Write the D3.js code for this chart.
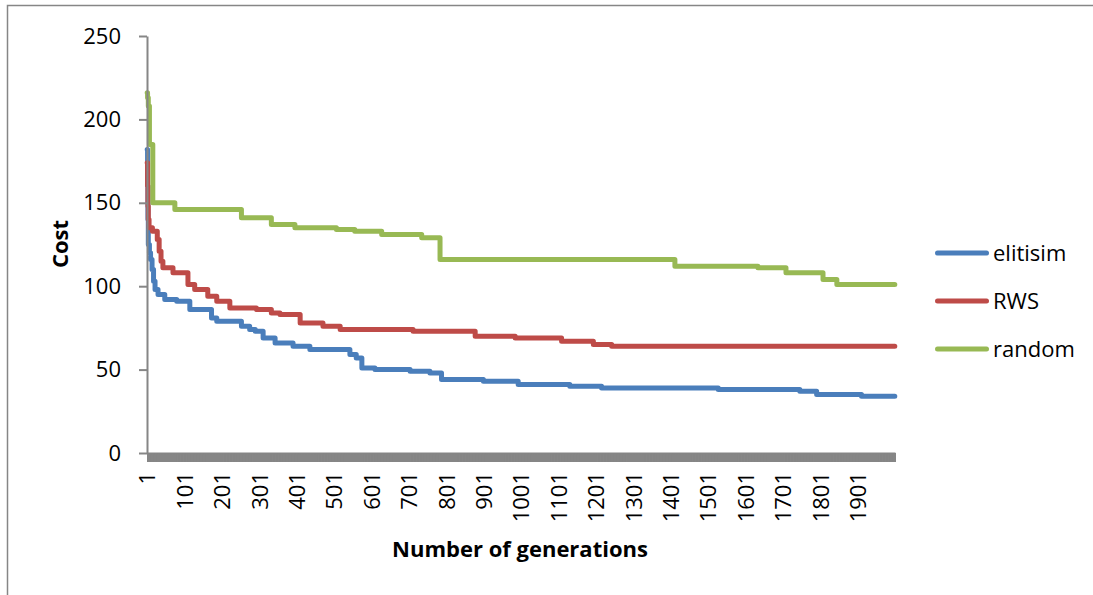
<!DOCTYPE html>
<html><head><meta charset="utf-8">
<script src="https://cdn.jsdelivr.net/npm/d3@7"></script>
<style>body{margin:0;background:#fff} svg{display:block}</style>
</head><body><svg id="c" width="1093" height="595"></svg>
<script>
// ---- data ----
const elitismGen  = [1,2,3,4,7,10,14,18,22,30,48,80,115,173,187,253,275,290,311,343,391,436,543,560,575,610,704,757,788,900,993,1131,1216,1528,1746,1791,1911,2000];
const elitismCost = [182,160,140,125,120,116,110,103,98,95,92,91,86,81,79,76,74,73,69,66,64,62,59,57,51,50,49,48,44,43,41,40,39,38,37,35,34,34];
const rwsGen  = [1,2,3,4,6,15,28,33,38,43,70,110,128,163,187,222,293,333,356,410,471,517,712,878,985,1109,1194,1243,2000];
const rwsCost = [174,160,148,140,135,133,128,121,115,111,108,101,98,94,91,87,86,84,83,78,76,74,73,70,69,67,65,64,64];
const randomGen  = [1,2,4,7,16,75,253,333,396,507,556,628,735,784,1412,1634,1709,1808,1845,2000];
const randomCost = [216,213,208,185,150,146,141,137,135,134,133,131,129,116,112,111,108,104,101,101];
const seriesNames = ["elitisim","RWS","random"];
const seriesColors = ["#4A7EBB","#BE4B48","#98B954"];
const yTicks = [0,50,100,150,200,250];
const xTickLabels = d3.range(1, 2001, 100);
const generationCount = 2000;

const series = [
  {name: seriesNames[0], color: seriesColors[0], pts: d3.zip(elitismGen, elitismCost)},
  {name: seriesNames[1], color: seriesColors[1], pts: d3.zip(rwsGen, rwsCost)},
  {name: seriesNames[2], color: seriesColors[2], pts: d3.zip(randomGen, randomCost)}
];

const svg = d3.select("#c");
const FONT = "'Open Sans', 'Liberation Sans', sans-serif";
const GRAY = "#868686";

// outer chart border (cropped at right/bottom)
svg.append("rect").attr("x",7.5).attr("y",5.5).attr("width",1200).attr("height",800)
  .attr("fill","none").attr("stroke",GRAY).attr("stroke-width",1.5);

const x = d3.scaleLinear().domain([0.5, generationCount + 0.5]).range([147, 895]);
const y = d3.scaleLinear().domain([0, 250]).range([453, 36]);

// lines
const line = d3.line().x(d => x(d[0])).y(d => y(d[1])).curve(d3.curveStepAfter);
svg.append("g").selectAll("path").data(series).join("path")
  .attr("d", d => line(d.pts))
  .attr("fill","none").attr("stroke", d => d.color)
  .attr("stroke-width",5).attr("stroke-linejoin","round").attr("stroke-linecap","round");

// x axis: dense category tick marks
const xAx = svg.append("g").attr("transform","translate(0,453)")
  .call(d3.axisBottom(x).tickValues(d3.range(0.5, generationCount + 1, 1)).tickSize(9).tickSizeOuter(0).tickFormat(""));
xAx.select(".domain").attr("stroke",GRAY).attr("stroke-width",2);
xAx.selectAll(".tick line").attr("stroke",GRAY).attr("stroke-width",1);

// x labels
const xLab = svg.append("g").attr("transform","translate(0,453)")
  .call(d3.axisBottom(x).tickValues(xTickLabels).tickSize(0).tickFormat(d3.format("d")));
xLab.select(".domain").remove();
xLab.selectAll("text")
  .attr("transform","rotate(-90)").attr("x",-19).attr("y",0).attr("dy","0.35em")
  .attr("text-anchor","end").attr("font-family",FONT).attr("font-size",22).attr("fill","#000");

// y axis
const yAx = svg.append("g").attr("transform","translate(147,0)")
  .call(d3.axisLeft(y).tickValues(yTicks).tickSize(8).tickSizeOuter(0).tickPadding(18));
yAx.select(".domain").attr("stroke",GRAY).attr("stroke-width",2);
yAx.selectAll(".tick line").attr("stroke",GRAY).attr("stroke-width",2);
yAx.selectAll("text").attr("font-family",FONT).attr("font-size",22).attr("fill","#000");

// axis titles
svg.append("text").attr("x",520).attr("y",557).attr("text-anchor","middle")
  .attr("font-family",FONT).attr("font-weight","bold").attr("font-size",22).text("Number of generations");
svg.append("text").attr("transform","translate(68,244) rotate(-90)").attr("text-anchor","middle")
  .attr("font-family",FONT).attr("font-weight","bold").attr("font-size",22).text("Cost");

// legend
const legY = [253, 301, 349];
const leg = svg.append("g").selectAll("g").data(series).join("g")
  .attr("transform",(d,i)=>`translate(0,${legY[i]})`);
leg.append("line").attr("x1",937.5).attr("x2",986.5).attr("y1",0).attr("y2",0)
  .attr("stroke",d=>d.color).attr("stroke-width",5).attr("stroke-linecap","round");
leg.append("text").attr("x",993).attr("y",0).attr("dy","0.35em")
  .attr("font-family",FONT).attr("font-size",22).text(d=>d.name);
</script></body></html>
